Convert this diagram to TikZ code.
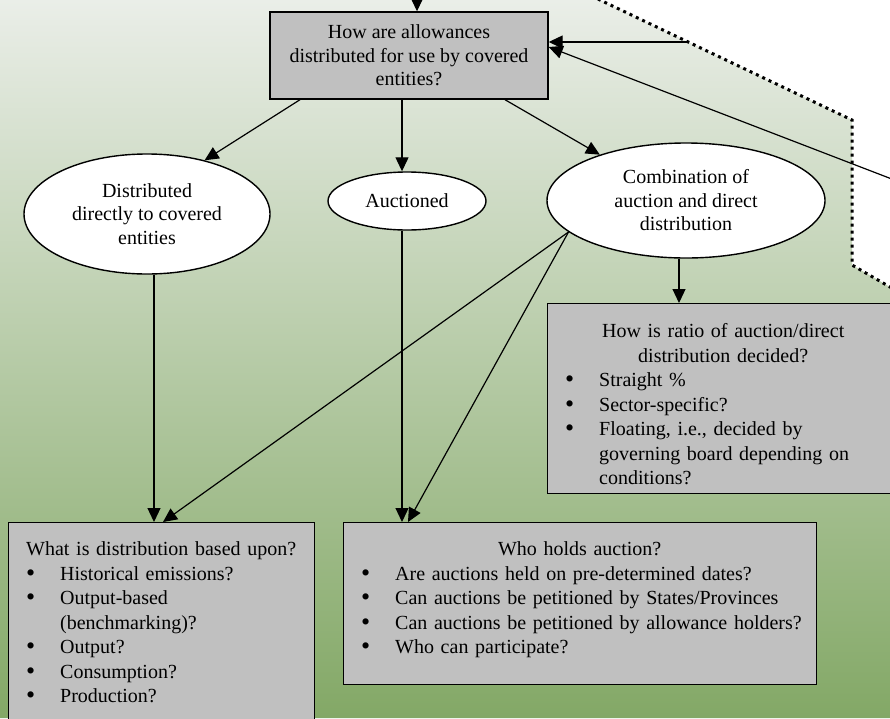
\documentclass[tikz,border=0pt]{standalone}
\usepackage{fontspec}
\usepackage{graphicx}
\setmainfont{Liberation Serif}
\usetikzlibrary{arrows.meta,shapes.geometric}
\definecolor{bgtop}{HTML}{EAEEE8}
\definecolor{bgbot}{HTML}{83A866}
\definecolor{boxgray}{HTML}{C0C0C0}
\newcommand{\bul}[1]{\par\noindent\hangindent=52pt\hangafter=1\hspace*{18pt}\makebox[34pt][l]{\raisebox{-1pt}{\scalebox{1.3}{\textbullet}}}#1}
\newcommand{\hdr}[1]{\par\noindent\makebox[\hsize][c]{\strut #1}}
\begin{document}
\begin{tikzpicture}[x=1pt,y=-1pt,
  arr/.style={line width=1.2pt,-{Triangle[length=14pt,width=13pt]}},
  graybox/.style={draw=black,line width=1.4pt,fill=boxgray,inner sep=0pt},
  oval/.style={ellipse,draw=black,line width=1.4pt,fill=white,inner sep=0pt,align=center,font=\fontsize{20}{23.5}\selectfont},
  listtext/.style={inner sep=0pt,align=left,font=\fontsize{20}{24.5}\selectfont},
  dotline/.style={line width=3pt,dash pattern=on 3pt off 4pt}]
\path[use as bounding box] (0,0) rectangle (890,718);
\begin{scope}
\clip (0,0) rectangle (890,718);
\shade[top color=bgtop,bottom color=bgbot] (0,0) -- (600,0) -- (852,120) -- (852,265) -- (890,287) -- (890,718) -- (0,718) -- cycle;
\draw[dotline] (579,-10) -- (852,120) -- (852,265) -- (890,287) -- (915,301);

\node[graybox,minimum width=278pt,minimum height=87pt,align=center,font=\fontsize{20}{23.5}\selectfont] (top) at (409,55.5) {How are allowances\\distributed for use by covered\\entities?};

\node[oval,minimum width=246pt,minimum height=120pt] (dist) at (147,214) {Distributed\\directly to covered\\entities};
\node[oval,minimum width=158pt,minimum height=58pt] (auc) at (407,201) {Auctioned};
\node[oval,minimum width=278pt,minimum height=115pt] (comb) at (686,200.5) {Combination of\\auction and direct\\distribution};

\node[graybox,anchor=north west,minimum width=352pt,minimum height=190pt] (ratio) at (547,303) {};
\node[graybox,anchor=north west,minimum width=306pt,minimum height=220pt] (basis) at (8,522) {};
\node[graybox,anchor=north west,minimum width=473pt,minimum height=162pt] (who) at (343,522) {};

\node[listtext,text width=352pt,anchor=north west] (ratiotext) at ([yshift=-9.8pt]ratio.north west) {\hdr{How is ratio of auction/direct}\hdr{distribution decided?}\bul{Straight \%}\bul{Sector-specific?}\bul{Floating, i.e., decided by\newline governing board depending on\newline conditions?}\par};
\node[listtext,text width=306pt,anchor=north west] (basistext) at ([yshift=-8.8pt]basis.north west) {\hdr{What is distribution based upon?}\bul{Historical emissions?}\bul{Output-based\newline (benchmarking)?}\bul{Output?}\bul{Consumption?}\bul{Production?}\par};
\node[listtext,text width=473pt,anchor=north west] (whotext) at ([yshift=-8.8pt]who.north west) {\hdr{Who holds auction?}\bul{Are auctions held on pre-determined dates?}\bul{Can auctions be petitioned by States/Provinces}\bul{Can auctions be petitioned by allowance holders?}\bul{Who can participate?}\par};

\draw[arr] ([xshift=-109pt]top.south) -- (dist.43);
\draw[arr] ([xshift=-7pt]top.south) -- ([xshift=-5pt]auc.north);
\draw[arr] ([xshift=96pt]top.south) -- (comb.152);
\draw[arr] ([xshift=7pt]dist.south) -- ([xshift=7pt]dist.south |- basis.north);
\draw[arr] ([xshift=-5pt]auc.south) -- ([xshift=-5pt]auc.south |- who.north);
\draw[arr] (comb.195) -- ([xshift=155pt]basis.north west);
\draw[arr] (comb.195) -- ([xshift=65pt]who.north west);
\draw[arr] ([xshift=-7pt]comb.south) -- ([xshift=-7pt]comb.south |- ratio.north);
\coordinate (feedA) at (687,42);
\coordinate (feedB) at (910,186);
\coordinate (feedC) at (417,-30);
\draw[arr] (feedA) -- (feedA -| top.east);
\draw[arr] (feedB) -- ([yshift=8.5pt]top.east);
\draw[arr] (feedC) -- ([xshift=8pt]top.north);
\end{scope}
\end{tikzpicture}
\end{document}
